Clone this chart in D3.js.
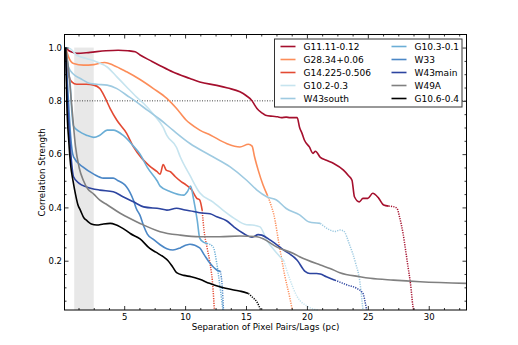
<!DOCTYPE html>
<html>
<head>
<meta charset="utf-8">
<script src="https://cdn.jsdelivr.net/npm/d3@7"></script>
<style>
    body { margin: 0; background: #fff; }
    text { font-family: "DejaVu Sans", sans-serif; font-size: 9px; fill: #000; }
</style>
</head>
<body>
<div id="chart"></div>
<script>

// series names (legend order)
const seriesNames = ["G11.11-0.12", "G28.34+0.06", "G14.225-0.506", "G10.2-0.3", "W43south",
    "G10.3-0.1", "W33", "W43main", "W49A", "G10.6-0.4"];

// [lag (pc), correlation] - solid part and dotted tail
const g1111Solid = [[0.2,1.0],[0.4,0.99],[0.7,0.983],[1.1,0.978],[2.2,0.982],[3.5,0.988],[4.5,0.99],[5.3,0.988],[5.9,0.984],[6.3,0.972],[7.2,0.95],[7.95,0.932],[9.0,0.908],[10.4,0.884],[11.2,0.871],[12.6,0.858],[13.5,0.848],[14.5,0.834],[15.0,0.82],[15.5,0.80],[15.7,0.785],[15.9,0.771],[16.3,0.755],[16.6,0.746],[17.2,0.742],[17.6,0.74],[17.9,0.737],[18.3,0.739],[18.6,0.737],[19.2,0.737],[19.4,0.70],[19.6,0.678],[19.8,0.652],[20.2,0.627],[20.5,0.603],[20.7,0.611],[21.1,0.588],[21.6,0.577],[22.2,0.565],[23.0,0.54],[23.4,0.52],[23.7,0.502],[23.9,0.44],[24.3,0.421],[24.6,0.434],[25.0,0.434],[25.4,0.453],[25.9,0.434],[26.3,0.409],[26.7,0.405]];
const g1111Dotted = [[26.7,0.405],[27.1,0.403],[27.4,0.396],[27.6,0.365],[27.9,0.30],[28.1,0.24],[28.3,0.177],[28.5,0.115],[28.7,0.03],[28.75,0.015]];

const g2834Solid = [[0.2,1.0],[0.43,0.965],[0.84,0.94],[1.66,0.934],[2.5,0.936],[3.4,0.944],[4.1,0.934],[5.2,0.909],[6.3,0.88],[7.4,0.846],[8.5,0.809],[9.3,0.771],[10.1,0.727],[10.4,0.715],[11.2,0.69],[12.1,0.671],[13.4,0.64],[14.5,0.627],[15.2,0.637],[15.5,0.63],[15.7,0.59],[16.0,0.54],[16.4,0.484],[16.75,0.446]];
const g2834Dotted = [[16.75,0.446],[17.1,0.402],[17.3,0.37],[17.7,0.265],[18.2,0.14],[18.6,0.06],[18.8,0.015]];

const g14225Solid = [[0.2,1.0],[0.3,0.95],[0.43,0.90],[0.7,0.871],[1.1,0.862],[1.9,0.862],[2.5,0.859],[3.0,0.846],[3.4,0.815],[3.85,0.771],[4.4,0.727],[5.2,0.678],[5.76,0.627],[6.45,0.584],[7.0,0.559],[7.7,0.534],[7.95,0.525],[8.2,0.561],[8.45,0.54],[8.8,0.534],[9.2,0.515],[9.7,0.496],[10.1,0.484],[10.55,0.465],[10.96,0.434],[11.2,0.428],[11.4,0.39]];
const g14225Dotted = [[11.4,0.39],[11.55,0.315],[11.8,0.25],[12.05,0.19],[12.3,0.09],[12.4,0.015]];

const g102Solid = [[0.2,1.0],[0.57,0.996],[1.1,0.971],[1.9,0.959],[2.75,0.946],[3.6,0.927],[4.4,0.89],[5.2,0.852],[6.0,0.815],[6.6,0.79],[7.4,0.75],[8.2,0.70],[8.5,0.67],[9.3,0.625],[9.6,0.59],[10.4,0.52],[11.2,0.455],[12.3,0.42],[13.1,0.39],[14.0,0.36],[15.05,0.335],[15.5,0.334],[16.15,0.327],[16.7,0.277],[17.5,0.23],[18.1,0.20]];
const g102Dotted = [[18.1,0.20],[18.6,0.13],[19.2,0.065],[20.0,0.03],[20.9,0.015]];

const w43sSolid = [[0.2,1.0],[0.43,0.927],[0.84,0.90],[1.4,0.884],[2.2,0.865],[2.75,0.862],[3.6,0.859],[4.4,0.846],[5.2,0.821],[6.0,0.796],[6.9,0.765],[7.95,0.73],[9.0,0.69],[10.4,0.64],[12.05,0.596],[13.7,0.552],[15.05,0.502],[15.9,0.465],[16.7,0.44],[17.5,0.428],[18.3,0.396],[19.4,0.372],[20.2,0.345],[21.1,0.34]];
const w43sDotted = [[21.1,0.34],[21.9,0.315],[22.3,0.31],[22.7,0.315],[23.0,0.312],[23.5,0.26],[24.0,0.19],[24.35,0.12],[24.5,0.06],[24.6,0.015]];

const g103Solid = [[0.2,1.0],[0.3,0.96],[0.45,0.91],[0.57,0.86],[0.7,0.76],[0.84,0.705],[1.3,0.685],[1.9,0.671],[2.5,0.663],[3.0,0.671],[3.6,0.69],[4.1,0.69],[4.9,0.671],[5.76,0.63],[6.3,0.60],[6.9,0.55],[7.7,0.50],[7.95,0.48],[8.8,0.459],[9.9,0.446],[10.2,0.46],[10.45,0.48],[10.7,0.43],[11.0,0.35],[11.2,0.285],[11.5,0.27],[11.8,0.265]];
const g103Dotted = [[11.8,0.265],[12.3,0.252],[12.6,0.19],[12.9,0.09],[13.1,0.015]];

const w33Solid = [[0.2,1.0],[0.3,0.9],[0.45,0.78],[0.6,0.67],[0.84,0.59],[1.66,0.55],[2.5,0.525],[3.3,0.51],[4.1,0.51],[4.5,0.5],[4.9,0.49],[5.2,0.477],[5.76,0.427],[6.0,0.395],[6.3,0.37],[6.6,0.33],[6.9,0.30],[7.4,0.28],[7.95,0.26],[8.5,0.245],[9.0,0.24],[9.6,0.248],[10.1,0.259],[10.4,0.262],[11.2,0.248],[11.6,0.22],[12.05,0.19],[12.6,0.165],[12.9,0.16]];
const w33Dotted = [[12.9,0.16],[13.05,0.1],[13.15,0.015]];

const w43mSolid = [[0.2,1.0],[0.3,0.85],[0.5,0.68],[0.7,0.56],[0.84,0.515],[1.3,0.49],[1.9,0.477],[3.0,0.465],[4.1,0.459],[4.9,0.44],[5.76,0.421],[6.6,0.402],[7.95,0.395],[8.5,0.39],[9.3,0.397],[10.0,0.39],[10.7,0.385],[11.2,0.38],[12.05,0.376],[12.6,0.365],[13.4,0.35],[14.0,0.327],[14.8,0.302],[15.5,0.288],[16.0,0.298],[16.3,0.296],[17.0,0.277],[18.1,0.24],[19.2,0.202],[19.85,0.16],[20.25,0.152],[20.8,0.152],[21.1,0.15],[21.6,0.14],[22.3,0.127]];
const w43mDotted = [[22.3,0.127],[23.3,0.109],[24.1,0.096],[24.6,0.077],[24.8,0.04],[24.9,0.015]];

const w49aSolid = [[0.2,1.0],[0.4,0.93],[0.7,0.78],[1.0,0.63],[1.3,0.55],[1.66,0.5],[2.0,0.47],[2.5,0.45],[3.0,0.427],[3.6,0.41],[4.67,0.378],[5.2,0.365],[6.3,0.34],[7.95,0.309],[9.6,0.296],[11.2,0.29],[12.85,0.29],[14.5,0.293],[15.9,0.29],[16.5,0.28],[17.5,0.252],[18.9,0.227],[19.4,0.215],[21.1,0.184],[21.9,0.171],[22.7,0.155],[24.35,0.14],[25.2,0.134],[27.1,0.127],[29.3,0.121],[33.1,0.115]];
const w49aDotted = [];

const g106Solid = [[0.2,1.0],[0.25,0.88],[0.3,0.78],[0.45,0.65],[0.6,0.56],[0.8,0.5],[1.0,0.45],[1.2,0.41],[1.4,0.39],[1.7,0.36],[1.9,0.352],[2.3,0.338],[2.75,0.334],[3.3,0.338],[3.85,0.34],[4.3,0.335],[4.67,0.327],[5.2,0.312],[5.5,0.302],[6.3,0.282],[7.1,0.246],[7.6,0.232],[8.2,0.215],[8.6,0.2],[9.0,0.175],[9.3,0.155],[9.9,0.145],[10.5,0.14],[11.2,0.13],[12.0,0.115],[12.85,0.102],[14.0,0.09],[14.6,0.085],[15.2,0.077]];
const g106Dotted = [[15.2,0.077],[15.6,0.06],[15.9,0.045],[16.2,0.015]];

// shaded region and threshold
const shadeRange = [0.9, 2.5];
const threshold = 0.8;

// tick values
const xTicks = [5, 10, 15, 20, 25, 30];
const yTicks = [0.2, 0.4, 0.6, 0.8, 1.0];


class CorrChart {

    constructor(parentElement, data) {
        this.parentElement = parentElement;
        this.data = data;
        this.initVis();
    }

    initVis() {
        let vis = this;

        vis.margin = {top: 34.5, right: 51.5, bottom: 35, left: 64.5};
        vis.width = 518 - vis.margin.left - vis.margin.right;
        vis.height = 345 - vis.margin.top - vis.margin.bottom;

        vis.svg = d3.select("#" + vis.parentElement).append("svg")
            .attr("width", 518)
            .attr("height", 345)
            .append("g")
            .attr("transform", "translate(" + vis.margin.left + "," + vis.margin.top + ")");

        vis.colors = ["#a50f2d", "#fc8d59", "#e34a33", "#c6e4ef", "#9ecae1",
            "#6baed6", "#4b87c6", "#2c44a0", "#808080", "#000000"];

        vis.x = d3.scaleLinear().domain([0.1, 33.1]).range([0, vis.width]);
        vis.y = d3.scaleLinear().domain([0.015, 1.049]).range([vis.height, 0]);

        vis.line = d3.line()
            .x(d => vis.x(d[0]))
            .y(d => vis.y(d[1]))
            .curve(d3.curveMonotoneX);

        vis.wrangleData();
    }

    wrangleData() {
        let vis = this;
        // minor ticks: every 1.25 pc and every 0.05
        vis.xMinor = d3.range(1, 27).map(i => i * 1.25).filter(v => v % 5 !== 0);
        vis.yMinor = d3.range(1, 21).filter(i => i % 4 !== 0).map(i => i * 0.05);
        vis.updateVis();
    }

    updateVis() {
        let vis = this;

        // grey band
        vis.svg.append("rect")
            .attr("x", vis.x(shadeRange[0]))
            .attr("width", vis.x(shadeRange[1]) - vis.x(shadeRange[0]))
            .attr("y", vis.y(1.0))
            .attr("height", vis.height - vis.y(1.0))
            .attr("fill", "#e8e8e8");

        // dotted threshold line
        vis.svg.append("line")
            .attr("x1", 0).attr("x2", vis.width)
            .attr("y1", vis.y(threshold)).attr("y2", vis.y(threshold))
            .attr("stroke", "#444")
            .attr("stroke-width", 1)
            .attr("stroke-dasharray", "1,1.5");

        // series
        vis.data.forEach((s, i) => {
            vis.svg.append("path")
                .datum(s.solid)
                .attr("d", vis.line)
                .attr("fill", "none")
                .attr("stroke", vis.colors[i])
                .attr("stroke-width", 1.6)
                .attr("stroke-linejoin", "round");
            if (s.dotted.length) {
                vis.svg.append("path")
                    .datum(s.dotted)
                    .attr("d", vis.line)
                    .attr("fill", "none")
                    .attr("stroke", vis.colors[i])
                    .attr("stroke-width", 1.5)
                    .attr("stroke-dasharray", "1.2,1.2");
            }
        });

        // axes, ticks inward on all sides
        const styleAxis = g => {
            g.select(".domain").remove();
            g.selectAll(".tick line").attr("stroke", "#000").attr("stroke-width", 0.8);
            g.selectAll("text").style("font-size", "8.5px").attr("fill", "#000");
        };

        vis.svg.append("g")
            .attr("transform", "translate(0," + vis.height + ")")
            .call(d3.axisBottom(vis.x).tickValues(xTicks).tickSize(-4).tickPadding(4).tickFormat(d3.format("d")))
            .call(styleAxis);
        vis.svg.append("g")
            .attr("transform", "translate(0," + vis.height + ")")
            .call(d3.axisBottom(vis.x).tickValues(vis.xMinor).tickSize(-2).tickFormat(""))
            .call(styleAxis);
        vis.svg.append("g")
            .call(d3.axisTop(vis.x).tickValues(xTicks).tickSize(-4).tickFormat(""))
            .call(styleAxis);
        vis.svg.append("g")
            .call(d3.axisTop(vis.x).tickValues(vis.xMinor).tickSize(-2).tickFormat(""))
            .call(styleAxis);

        vis.svg.append("g")
            .call(d3.axisLeft(vis.y).tickValues(yTicks).tickSize(-4).tickPadding(2.5).tickFormat(d3.format(".1f")))
            .call(styleAxis);
        vis.svg.append("g")
            .call(d3.axisLeft(vis.y).tickValues(vis.yMinor).tickSize(-2).tickFormat(""))
            .call(styleAxis);
        vis.svg.append("g")
            .attr("transform", "translate(" + vis.width + ",0)")
            .call(d3.axisRight(vis.y).tickValues(yTicks).tickSize(-4).tickFormat(""))
            .call(styleAxis);
        vis.svg.append("g")
            .attr("transform", "translate(" + vis.width + ",0)")
            .call(d3.axisRight(vis.y).tickValues(vis.yMinor).tickSize(-2).tickFormat(""))
            .call(styleAxis);

        // frame
        vis.svg.append("rect")
            .attr("width", vis.width)
            .attr("height", vis.height)
            .attr("fill", "none")
            .attr("stroke", "#000")
            .attr("stroke-width", 1);

        // axis labels
        vis.svg.append("text")
            .attr("x", vis.width / 2)
            .attr("y", vis.height + 20)
            .attr("text-anchor", "middle")
            .style("font-size", "8.7px")
            .text("Separation of Pixel Pairs/Lags (pc)");

        vis.svg.append("text")
            .attr("transform", "rotate(-90)")
            .attr("x", -vis.height / 2)
            .attr("y", -20)
            .attr("text-anchor", "middle")
            .style("font-size", "8.7px")
            .text("Correlation Strength");

        // legend
        let legend = vis.svg.append("g")
            .attr("transform", "translate(" + (274.5 - vis.margin.left) + "," + (39 - vis.margin.top) + ")");
        legend.append("rect")
            .attr("width", 187.5)
            .attr("height", 68)
            .attr("fill", "#fff")
            .attr("stroke", "#333")
            .attr("stroke-width", 1);

        vis.data.forEach((s, i) => {
            let col = Math.floor(i / 5), row = i % 5;
            let gx = 6 + col * 111, gy = 7.5 + row * 13;
            legend.append("line")
                .attr("x1", gx).attr("x2", gx + 15)
                .attr("y1", gy).attr("y2", gy)
                .attr("stroke", vis.colors[i])
                .attr("stroke-width", 1.6);
            legend.append("text")
                .attr("x", gx + 23)
                .attr("y", gy)
                .attr("dy", "0.35em")
                .text(s.name);
        });
    }
}

const solids = [g1111Solid, g2834Solid, g14225Solid, g102Solid, w43sSolid, g103Solid, w33Solid, w43mSolid, w49aSolid, g106Solid];
const dotteds = [g1111Dotted, g2834Dotted, g14225Dotted, g102Dotted, w43sDotted, g103Dotted, w33Dotted, w43mDotted, w49aDotted, g106Dotted];
const tableData = seriesNames.map((n, i) => ({name: n, solid: solids[i], dotted: dotteds[i]}));

new CorrChart("chart", tableData);

</script>
</body>
</html>
